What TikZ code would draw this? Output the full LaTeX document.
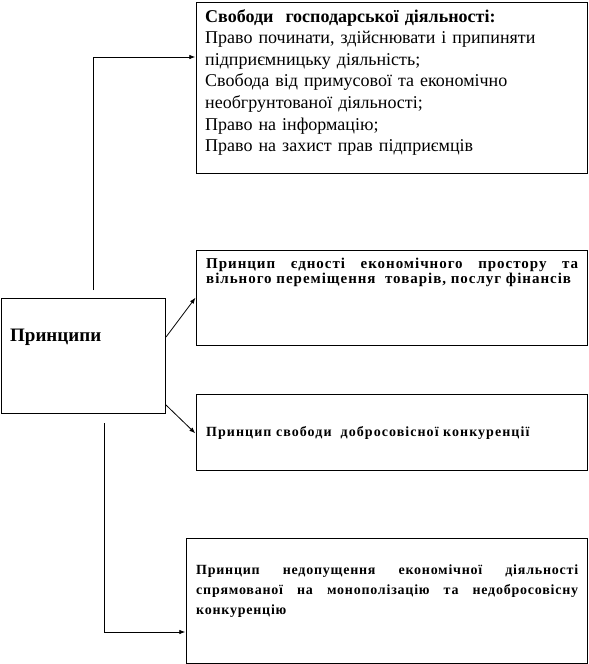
\documentclass[tikz,border=0pt]{standalone}
\usepackage{fontspec}
\setmainfont{Liberation Serif}
\usetikzlibrary{arrows.meta}
\begin{document}
\begin{tikzpicture}[x=1pt,y=-1pt,
  box/.style={draw,line width=0.9pt},
  txt/.style={anchor=north west,inner sep=0pt,align=left},
  jtxt/.style={anchor=north west,inner sep=0pt,align=justify},
  conn/.style={line width=0.8pt,-{Latex[length=6pt,width=4.5pt]}}]
\useasboundingbox (0,0) rectangle (589,664);
% boxes
\draw[box] (196,2) rectangle (587,173);
\draw[box] (196,250) rectangle (587,345);
\draw[box] (196,394) rectangle (587,470);
\draw[box] (186,538) rectangle (587,663);
\draw[box] (1,298) rectangle (165,413);
% named anchor nodes
\node[inner sep=0pt] (b1) at (196,57) {};
\node[inner sep=0pt] (b2) at (196,297) {};
\node[inner sep=0pt] (b3) at (196,434) {};
\node[inner sep=0pt] (b4) at (186,632) {};
\coordinate (p1) at (93,290);
\coordinate (p1c) at (93,57);
\coordinate (p2) at (166,337);
\coordinate (p3) at (166,405);
\coordinate (p4) at (104,423);
\coordinate (p4c) at (104,632);
% texts
\node[txt,text width=385pt,font=\fontsize{18}{21.6}\selectfont] (t1) at (205,9)
 {\textbf{Свободи\ \ господарської діяльності:}\\
 Право починати, здійснювати і припиняти\\
 підприємницьку діяльність;\\
 Свобода від примусової та економічно\\
 необгрунтованої діяльності;\\
 Право на інформацію;\\
 Право на захист прав підприємців};
\node[jtxt,text width=372pt,font=\bfseries\fontsize{15}{13.5}\selectfont\addfontfeature{LetterSpace=6.5}] (t2) at (206,258)
 {Принцип єдності економічного простору та вільного переміщення\ \ товарів, послуг фінансів};
\node[anchor=west,inner sep=0pt,font=\bfseries\fontsize{14}{14}\selectfont\addfontfeature{LetterSpace=7.5}] (t3) at (206,433)
 {Принцип свободи\ \ добросовісної конкуренції};
\node[jtxt,text width=382pt,font=\bfseries\fontsize{14}{20}\selectfont\addfontfeature{LetterSpace=5.5}] (t4) at (196,565)
 {Принцип недопущення економічної діяльності спрямованої на монополізацію та недобросовісну конкуренцію};
\node[anchor=west,inner sep=0pt,font=\bfseries\fontsize{19}{20}\selectfont] (pr) at (10,337) {Принципи};
% connectors
\draw[conn] (p1) -- (p1c) -- (b1);
\draw[conn] (p2) -- (b2);
\draw[conn] (p3) -- (b3);
\draw[conn] (p4) -- (p4c) -- (b4);
\end{tikzpicture}
\end{document}
